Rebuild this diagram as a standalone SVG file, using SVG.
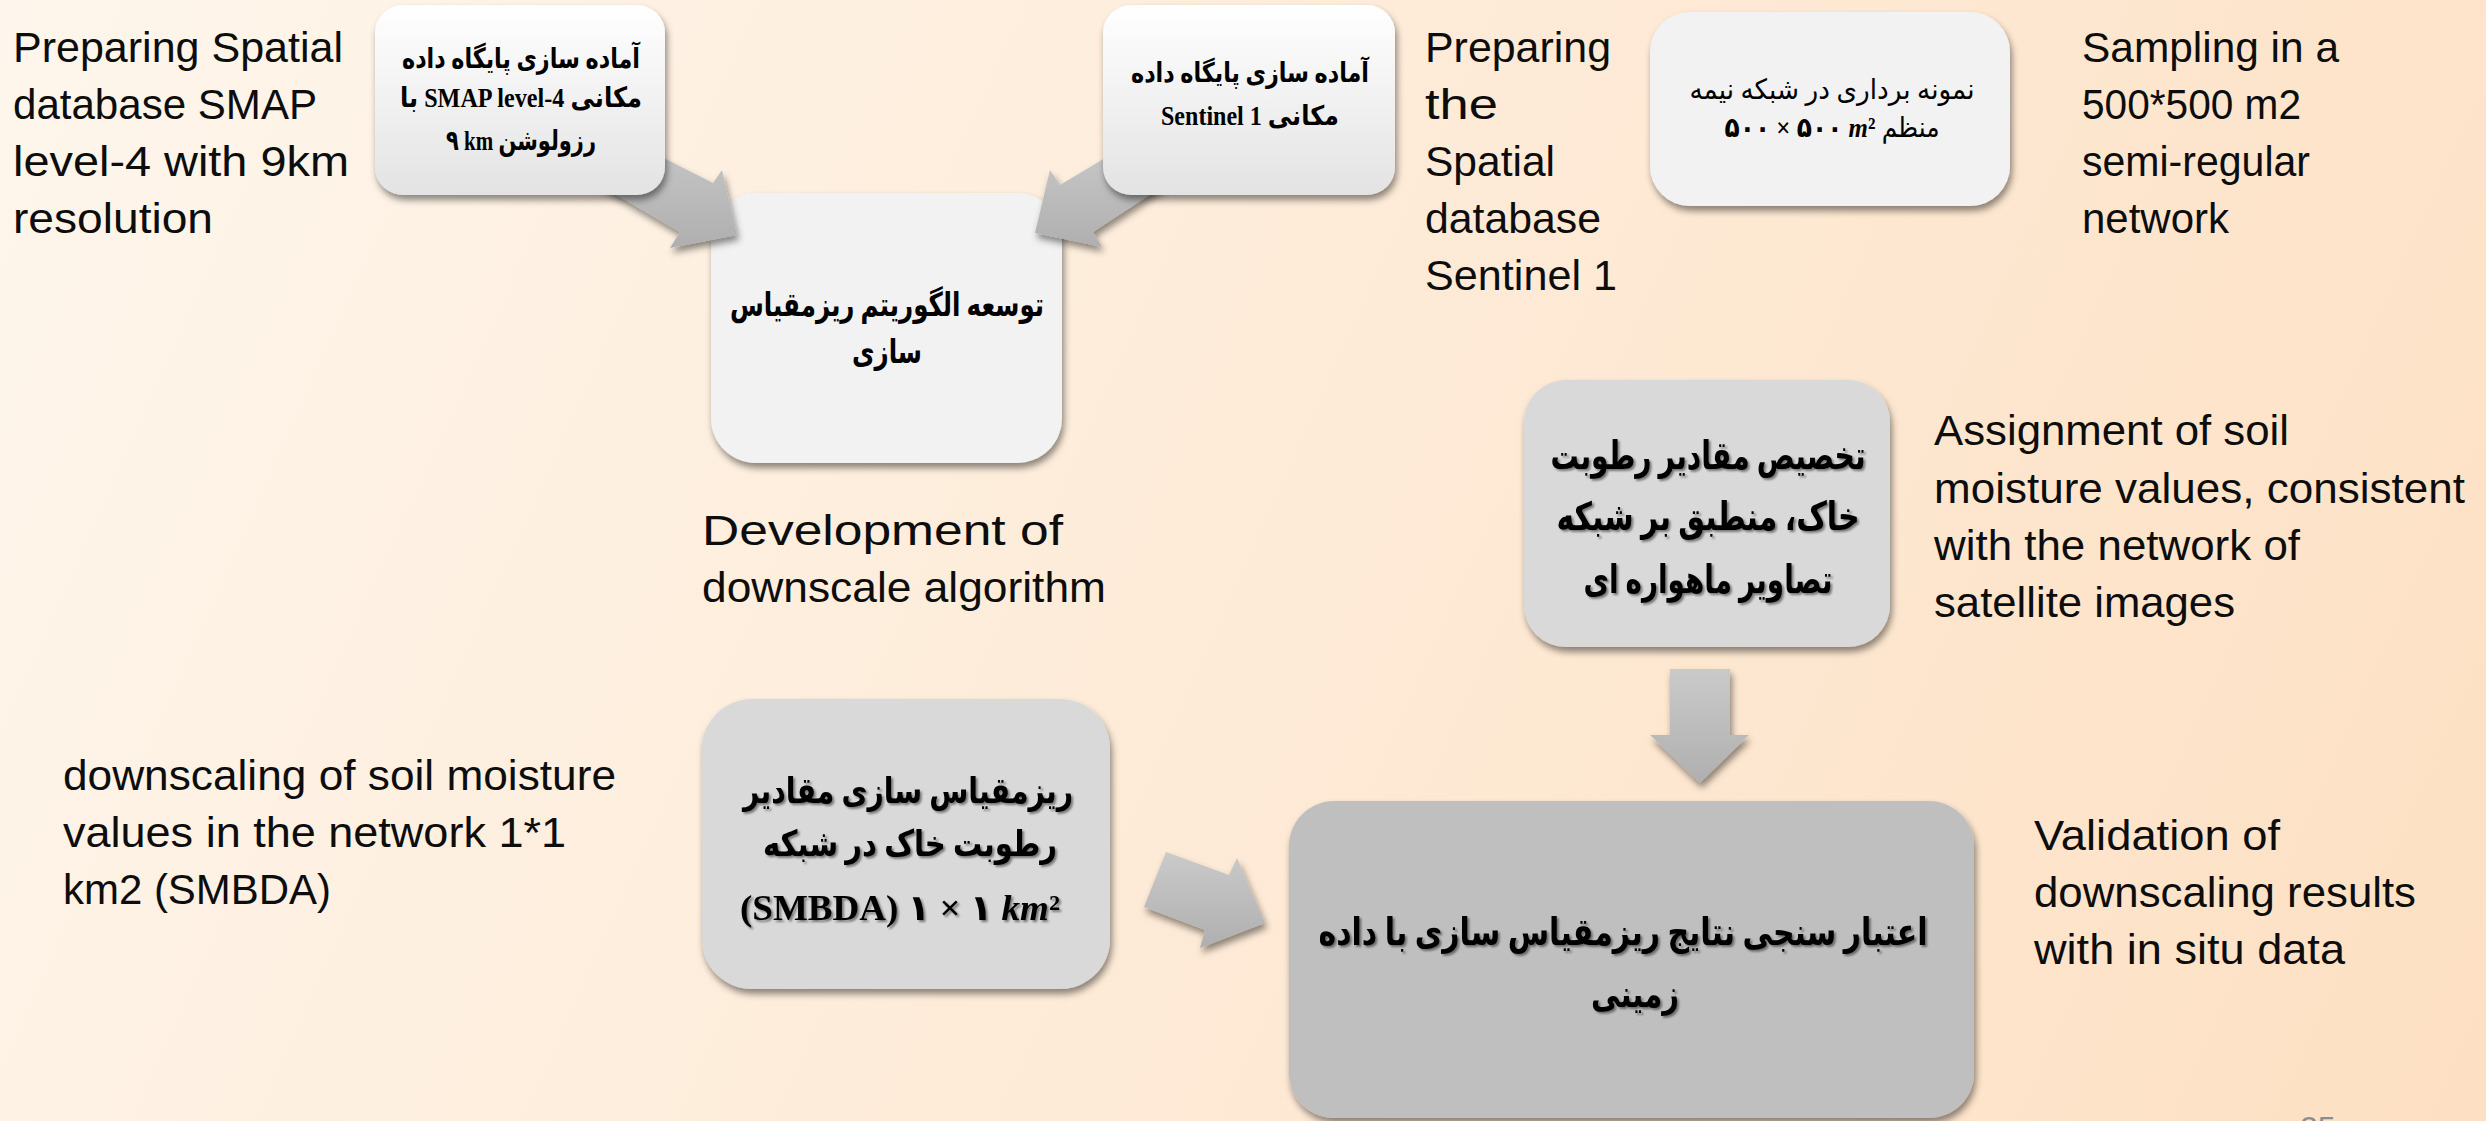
<svg xmlns="http://www.w3.org/2000/svg" width="2486" height="1121" viewBox="0 0 2486 1121">
<defs>
<linearGradient id="bg" gradientUnits="userSpaceOnUse" x1="0" y1="0" x2="2486" y2="1121">
<stop offset="0" stop-color="#fef6ec"/><stop offset="1" stop-color="#fde0c3"/>
</linearGradient>
<linearGradient id="gWhite" x1="0" y1="0" x2="0" y2="1">
<stop offset="0" stop-color="#ffffff"/><stop offset="1" stop-color="#e3e3e3"/>
</linearGradient>
<linearGradient id="gArrow" x1="0" y1="0" x2="0" y2="1">
<stop offset="0" stop-color="#cacaca"/><stop offset="1" stop-color="#afafaf"/>
</linearGradient>
<filter id="shadow" x="-10%" y="-10%" width="125%" height="135%">
<feDropShadow dx="2" dy="5" stdDeviation="3.5" flood-color="#000" flood-opacity="0.45"/>
</filter>
<filter id="tshadow" x="-5%" y="-20%" width="110%" height="150%">
<feDropShadow dx="2" dy="2" stdDeviation="1.3" flood-color="#000" flood-opacity="0.45"/>
</filter>
<style>
.en{font-family:"Liberation Sans",Arial,sans-serif;font-size:42px;fill:#0d0d0d}
.fa{font-family:"Liberation Serif","DejaVu Sans",serif;fill:#000;text-anchor:middle;font-weight:bold}
.fr{font-weight:normal}
.it{font-style:italic}
.ts{filter:url(#tshadow)}
.arrow{fill:url(#gArrow);filter:url(#shadow)}
.box{filter:url(#shadow)}
</style>
</defs>
<rect x="0" y="0" width="2486" height="1121" fill="url(#bg)"/>

<g id="node-development">
<rect class="box" x="711" y="193" width="351" height="270" rx="45" fill="#f2f2f2"/>
<text class="fa" font-size="33" x="887" y="316" textLength="314" lengthAdjust="spacingAndGlyphs">توسعه الگوریتم ریزمقیاس</text>
<text class="fa" font-size="33" x="887" y="363" textLength="70" lengthAdjust="spacingAndGlyphs">سازی</text>
</g>

<g id="connectors">
<polygon class="arrow" points="600,126 713,183 722,170 737,235 670,248 680,232 577,172"/>
<polygon class="arrow" points="1035,233 1050,170 1060,185 1140,137 1180,175 1093,232 1102,247"/>
<polygon class="arrow" points="1670,669 1730,669 1730,735 1749,735 1700,783 1650,735 1670,735"/>
<polygon class="arrow" points="1166,852 1229,875 1237,858 1265,923 1200,948 1205,930 1144,907"/>
</g>

<g id="node-smap">
<rect class="box" x="375" y="5" width="290" height="190" rx="28" fill="url(#gWhite)"/>
<text class="fa" font-size="28" x="521" y="68" textLength="238" lengthAdjust="spacingAndGlyphs">آماده سازی پایگاه داده</text>
<text class="fa" font-size="28" x="521" y="107" textLength="242" lengthAdjust="spacingAndGlyphs">با SMAP level-4 مکانی</text>
<text class="fa" font-size="28" x="521" y="150" textLength="150" lengthAdjust="spacingAndGlyphs">۹ km رزولوشن</text>
</g>

<g id="node-sentinel">
<rect class="box" x="1103" y="5" width="292" height="190" rx="28" fill="url(#gWhite)"/>
<text class="fa" font-size="27" x="1250" y="82" textLength="238" lengthAdjust="spacingAndGlyphs">آماده سازی پایگاه داده</text>
<text class="fa" font-size="27" x="1250" y="125" textLength="178" lengthAdjust="spacingAndGlyphs">Sentinel 1 مکانی</text>
</g>

<g id="node-sampling">
<rect class="box" x="1650" y="12" width="360" height="194" rx="40" fill="#f2f2f2"/>
<text class="fa fr" font-size="28" x="1832" y="99" textLength="285" lengthAdjust="spacingAndGlyphs">نمونه برداری در شبکه نیمه</text>
<text class="fa fr" font-size="28" x="1832" y="137" textLength="215" lengthAdjust="spacingAndGlyphs"><tspan font-weight="bold">۵۰۰ × ۵۰۰ </tspan><tspan class="it" font-weight="bold">m</tspan><tspan font-weight="bold">²</tspan> منظم</text>
</g>

<g id="node-assignment">
<rect class="box" x="1524" y="380" width="366" height="267" rx="42" fill="#d9d9d9"/>
<text class="fa ts" font-size="39" x="1708" y="469" textLength="315" lengthAdjust="spacingAndGlyphs">تخصیص مقادیر رطوبت</text>
<text class="fa ts" font-size="39" x="1708" y="530" textLength="303" lengthAdjust="spacingAndGlyphs">خاک، منطبق بر شبکه</text>
<text class="fa ts" font-size="39" x="1708" y="593" textLength="249" lengthAdjust="spacingAndGlyphs">تصاویر ماهواره ای</text>
</g>

<g id="node-downscaling">
<rect class="box" x="702" y="699" width="408" height="290" rx="50" fill="#d9d9d9"/>
<text class="fa ts" font-size="36" x="908" y="803" textLength="330" lengthAdjust="spacingAndGlyphs">ریزمقیاس سازی مقادیر</text>
<text class="fa ts" font-size="36" x="910" y="856" textLength="294" lengthAdjust="spacingAndGlyphs">رطوبت خاک در شبکه</text>
<text class="fa ts" font-size="36" x="900" y="920" textLength="320" lengthAdjust="spacingAndGlyphs">(SMBDA) ۱ × ۱ <tspan class="it">km</tspan>²</text>
</g>

<g id="node-validation">
<rect class="box" x="1289" y="801" width="685" height="317" rx="45" fill="#bfbfbf"/>
<text class="fa ts" font-size="38" x="1623" y="945" textLength="609" lengthAdjust="spacingAndGlyphs">اعتبار سنجی نتایج ریزمقیاس سازی با داده</text>
<text class="fa ts" font-size="38" x="1635" y="1007" textLength="88" lengthAdjust="spacingAndGlyphs">زمینی</text>
</g>

<g id="labels">
<text class="en" x="13" y="62" textLength="330" lengthAdjust="spacingAndGlyphs">Preparing Spatial</text>
<text class="en" x="13" y="119" textLength="304" lengthAdjust="spacingAndGlyphs">database SMAP</text>
<text class="en" x="13" y="176" textLength="336" lengthAdjust="spacingAndGlyphs">level-4 with 9km</text>
<text class="en" x="13" y="233" textLength="200" lengthAdjust="spacingAndGlyphs">resolution</text>

<text class="en" x="1425" y="62" textLength="186" lengthAdjust="spacingAndGlyphs">Preparing</text>
<text class="en" x="1425" y="119" textLength="73" lengthAdjust="spacingAndGlyphs">the</text>
<text class="en" x="1425" y="176" textLength="130" lengthAdjust="spacingAndGlyphs">Spatial</text>
<text class="en" x="1425" y="233" textLength="176" lengthAdjust="spacingAndGlyphs">database</text>
<text class="en" x="1425" y="290" textLength="192" lengthAdjust="spacingAndGlyphs">Sentinel 1</text>

<text class="en" x="2082" y="62" textLength="257" lengthAdjust="spacingAndGlyphs">Sampling in a</text>
<text class="en" x="2082" y="119" textLength="219" lengthAdjust="spacingAndGlyphs">500*500 m2</text>
<text class="en" x="2082" y="176" textLength="228" lengthAdjust="spacingAndGlyphs">semi-regular</text>
<text class="en" x="2082" y="233" textLength="147" lengthAdjust="spacingAndGlyphs">network</text>

<text class="en" x="702" y="545" textLength="361" lengthAdjust="spacingAndGlyphs">Development of</text>
<text class="en" x="702" y="602" textLength="404" lengthAdjust="spacingAndGlyphs">downscale algorithm</text>

<text class="en" x="1934" y="445" textLength="355" lengthAdjust="spacingAndGlyphs">Assignment of soil</text>
<text class="en" x="1934" y="503" textLength="531" lengthAdjust="spacingAndGlyphs">moisture values, consistent</text>
<text class="en" x="1934" y="560" textLength="366" lengthAdjust="spacingAndGlyphs">with the network of</text>
<text class="en" x="1934" y="617" textLength="301" lengthAdjust="spacingAndGlyphs">satellite images</text>

<text class="en" x="63" y="790" textLength="553" lengthAdjust="spacingAndGlyphs">downscaling of soil moisture</text>
<text class="en" x="63" y="847" textLength="503" lengthAdjust="spacingAndGlyphs">values in the network 1*1</text>
<text class="en" x="63" y="904" textLength="268" lengthAdjust="spacingAndGlyphs">km2 (SMBDA)</text>

<text class="en" x="2034" y="850" textLength="246" lengthAdjust="spacingAndGlyphs">Validation of</text>
<text class="en" x="2034" y="907" textLength="382" lengthAdjust="spacingAndGlyphs">downscaling results</text>
<text class="en" x="2034" y="964" textLength="311" lengthAdjust="spacingAndGlyphs">with in situ data</text>

<text x="2300" y="1139" font-family="Liberation Sans, Arial, sans-serif" font-size="32" fill="#8c8c8c">25</text>
</g>
</svg>
